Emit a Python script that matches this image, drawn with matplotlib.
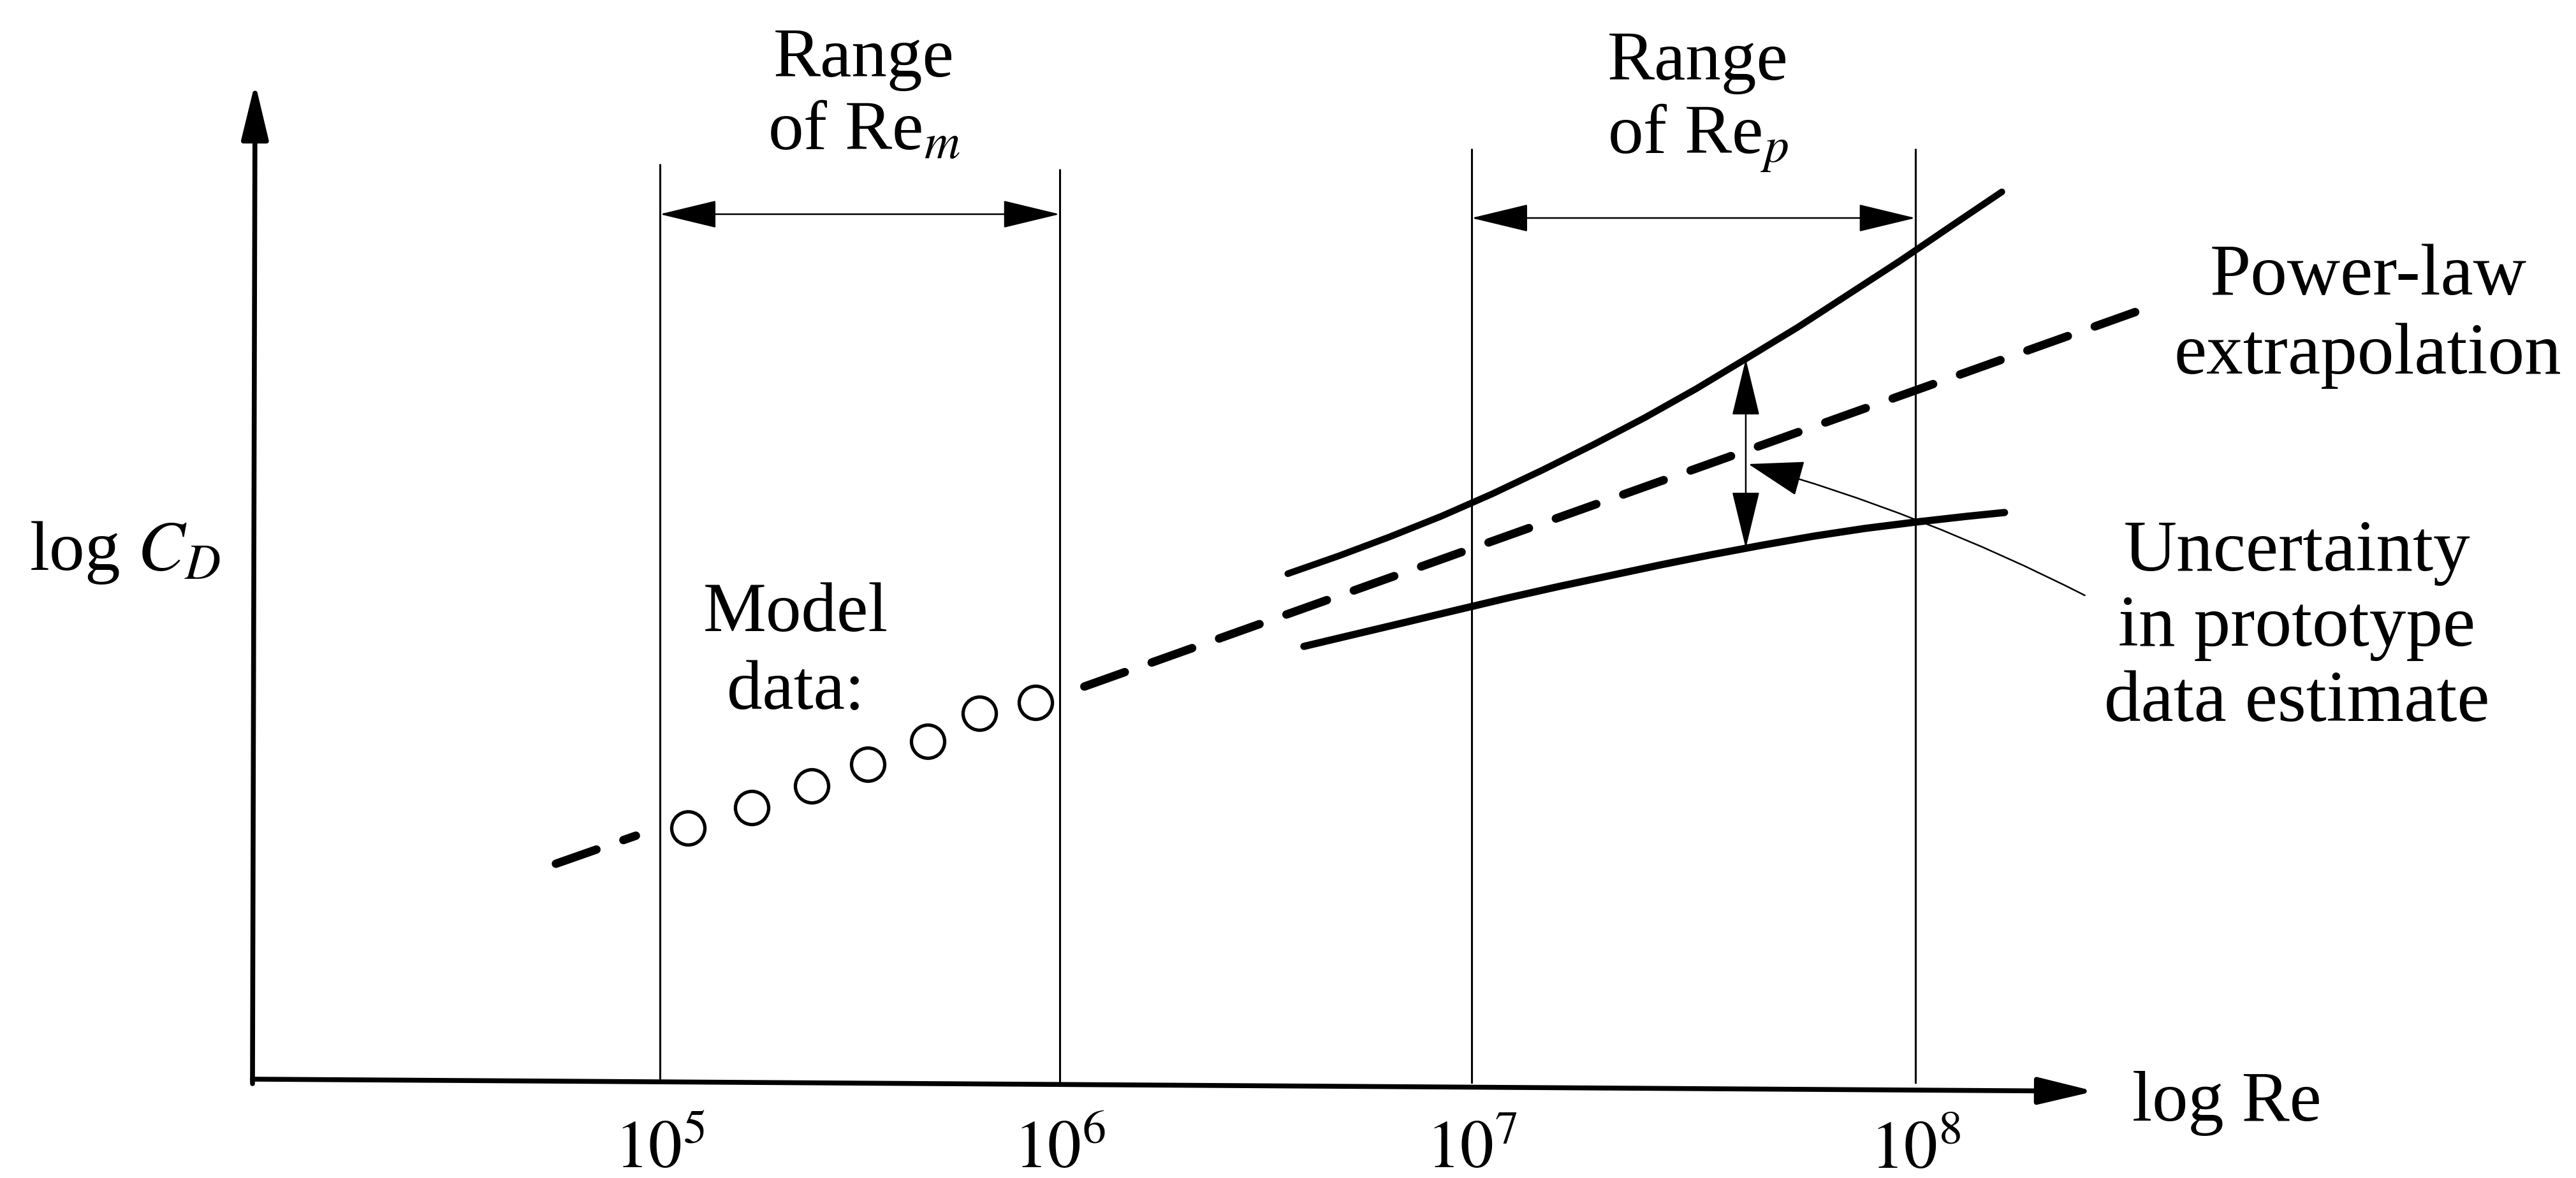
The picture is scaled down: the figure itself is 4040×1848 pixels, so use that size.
import numpy as np
import matplotlib.pyplot as plt

plt.rcParams['font.family'] = ['Liberation Serif', 'DejaVu Serif']
plt.rcParams['mathtext.fontset'] = 'stix'

# x is log10(Re), y is log C_D in arbitrary units (the sketch has no y ticks)
decades = [5, 6, 7, 8]
decade_labels = ['$10^5$', '$10^6$', '$10^7$', '$10^8$']
decade_line_tops = [14.43, 14.35, 14.67, 14.67]

# model data (open circles)
model_re = [5.07, 5.23, 5.38, 5.52, 5.67, 5.80, 5.94]
model_cd = [4.01, 4.33, 4.67, 5.01, 5.37, 5.81, 5.98]

# power-law extrapolation, drawn in two pieces around the circles
powerlaw_left_re = [4.74, 4.94]
powerlaw_left_cd = [3.45, 3.89]
powerlaw_right_re = [6.06, 8.53]
powerlaw_right_cd = [6.23, 12.19]

# uncertainty band around the extrapolation
upper_re = [6.554, 6.678, 6.802, 6.926, 7.046, 7.161, 7.276, 7.391, 7.506, 7.618,
            7.736, 7.851, 7.966, 8.080, 8.195]
upper_cd = [8.00, 8.28, 8.58, 8.90, 9.25, 9.63, 10.03, 10.45, 10.90, 11.37,
            11.87, 12.39, 12.91, 13.45, 13.99]
lower_re = [6.593, 6.717, 6.841, 6.964, 7.082, 7.197, 7.312, 7.427, 7.542, 7.657,
            7.772, 7.886, 8.001, 8.116, 8.201]
lower_cd = [6.86, 7.05, 7.24, 7.43, 7.62, 7.80, 7.97, 8.14, 8.30, 8.45,
            8.59, 8.71, 8.81, 8.90, 8.96]
uncertainty_re = 7.618

model_range = (5, 6)
prototype_range = (7, 8)

# the sketch is not to scale: every decade has its own drawn width
DECADE_KNOTS = [3, 4, 5, 6, 7, 8, 9, 10]
DECADE_EDGES = np.cumsum([0, 627, 627, 627, 646, 696, 696, 696])


def fwd(x):
    return np.interp(x, DECADE_KNOTS, DECADE_EDGES)


def inv(p):
    return np.interp(p, DECADE_EDGES, DECADE_KNOTS)


fig = plt.figure(figsize=(40.4, 18.48), dpi=100)
ax = fig.add_axes([396 / 4040, 148 / 1848, 2889 / 4040, 1570 / 1848])
ax.set_xscale('function', functions=(fwd, inv))
ax.set_xlim(3.981, 8.404)
ax.set_ylim(0, 15.70)
for s in ax.spines.values():
    s.set_visible(False)
ax.set_yticks([])
ax.set_xticks(decades, labels=decade_labels)
ax.tick_params(axis='x', length=0, pad=95, labelsize=76)
for lab in ax.get_xticklabels():
    lab.set_verticalalignment('baseline')

# axes drawn as arrows (the scanned x axis sags a little to the right)
axis_arrow = dict(arrowstyle='-|>,head_length=54,head_width=13', lw=5.5, color='black',
                  shrinkA=0, shrinkB=0, mutation_scale=1)
ax.annotate('', xy=(1, -0.0076), xytext=(0, 0.0045), xycoords='axes fraction',
            arrowprops=axis_arrow, annotation_clip=False)
ax.annotate('', xy=(0.0014, 1), xytext=(0, 0), xycoords='axes fraction', arrowprops=axis_arrow,
            annotation_clip=False)

# decade lines and range arrows
ax.vlines(decades, 0, decade_line_tops, lw=2.2, color='black')
range_arrow = dict(arrowstyle='<|-|>,head_length=58,head_width=14', lw=1.8, color='black',
                   shrinkA=0, shrinkB=0, mutation_scale=1)
ax.annotate('', xy=(model_range[1], 13.64), xytext=(model_range[0], 13.64), arrowprops=range_arrow)
ax.annotate('', xy=(prototype_range[1], 13.58), xytext=(prototype_range[0], 13.58),
            arrowprops=range_arrow)

# curves
dash_kw = dict(color='black', lw=9.5, dashes=(5.1, 3.4), dash_capstyle='round')
ax.plot(powerlaw_left_re, powerlaw_left_cd, clip_on=False, **dash_kw)
ax.plot(powerlaw_right_re, powerlaw_right_cd, clip_on=False, **dash_kw)
ax.plot(upper_re, upper_cd, color='black', lw=7.5, solid_capstyle='round', solid_joinstyle='round')
ax.plot(lower_re, lower_cd, color='black', lw=8.2, solid_capstyle='round', solid_joinstyle='round')
ax.plot(model_re, model_cd, 'o', ms=37.5, mfc='none', mec='black', mew=3.8, zorder=5)

# vertical arrow across the band
top = np.interp(uncertainty_re, upper_re, upper_cd)
bottom = np.interp(uncertainty_re, lower_re, lower_cd)
ax.annotate('', xy=(uncertainty_re, bottom), xytext=(uncertainty_re, top), arrowprops=range_arrow)

# pointer from the label to the extrapolation
ax.annotate('', xy=(7.624, 9.72), xytext=(8.382, 7.66),
            arrowprops=dict(arrowstyle='-|>,head_length=56,head_width=18', lw=1.8, color='black',
                            shrinkA=0, shrinkB=0, mutation_scale=1,
                            connectionstyle='arc3,rad=0.05'),
            annotation_clip=False)


def stacked(x, y0, lines, step, size=80):
    for i, s in enumerate(lines):
        ax.text(x, y0 - i * step, s, ha='center', va='baseline', fontsize=size)


stacked(5.51, 15.80, ['Range', 'of Re$_m$'], 1.15)
stacked(7.51, 15.75, ['Range', 'of Re$_p$'], 1.15)
stacked(5.34, 7.10, ['Model', 'data:'], 1.22)
stacked(9.02, 12.38, ['Power-law', 'extrapolation'], 1.24, size=83)
stacked(8.86, 8.05, ['Uncertainty', 'in prototype', 'data estimate'], 1.18, size=83)
ax.text(3.423, 8.06, 'log $C_D$', ha='left', va='baseline', fontsize=80)
ax.text(8.489, -0.58, 'log Re', ha='left', va='baseline', fontsize=81)

fig.savefig('out.png', dpi=100)
